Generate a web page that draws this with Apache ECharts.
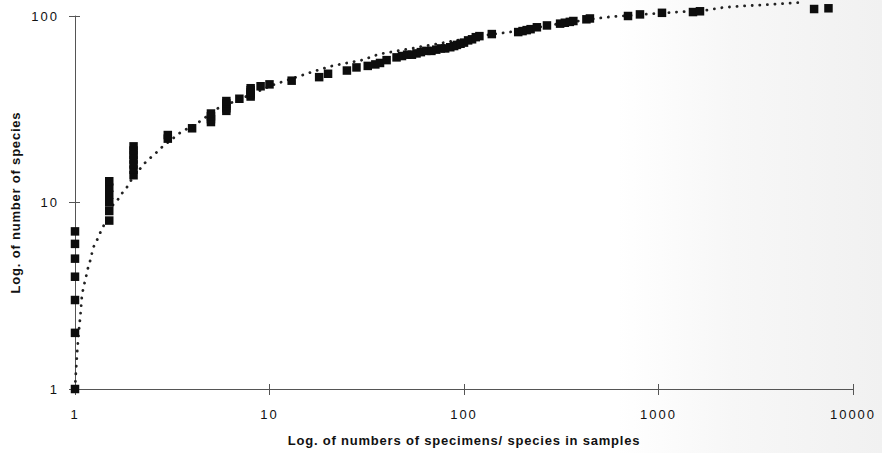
<!DOCTYPE html>
<html>
<head>
<meta charset="utf-8">
<script src="https://cdn.jsdelivr.net/npm/echarts@6/dist/echarts.min.js"></script>
<style>
html,body{margin:0;padding:0;}
body{background:linear-gradient(to right,#ffffff 0%,#ffffff 70%,#f7f7f7 83%,#f1f1f1 100%);}
#chart{width:882px;height:453px;}
#chart text{letter-spacing:2px;}
#chart text[style*="bold"]{letter-spacing:0.8px;}
</style>
</head>
<body>
<div id="chart"></div>
<script>
// Observed points: [specimens per species, number of species]
const specimensX = [1,1,1,1,1,1,1,
  1.5,1.5,1.5,1.5,1.5,1.5,
  2,2,2,2,2,2,2,
  3,3,4,5,5,5,5,6,6,6,6,6,7,8,8,8,8,8,9,10,
  13,18,20,25,28,32,35,37,40,
  45,48,51,54,57,60,64,68,72,76,80,85,89,
  92,96,100,105,110,115,120,139,
  190,200,210,220,237,267,312,330,350,365,426,444,
  697,803,1042,1504,1634,6310,7480];
const speciesY = [1,2,3,4,5,6,7,
  8,9,10,11,12,13,
  14,15,16,17,18,19,20,
  22,23,25,27,28,29,30,31,32,33,34,35,36,37,38,39,40,41,42,43,
  45,47,49,51,53,54,55,56,58,
  60,61,62,62,63,64,65,65,66,67,67,68,69,
  70,71,72,74,75,77,78,80,
  82,83,84,85,87,89,91,92,93,94,96,97,
  100,102,104,105,106,109,110];

// Dotted trend line
const trendX = [1,1.012,1.028,1.048,1.07,1.086,1.11,1.139,1.166,1.208,1.237,1.298,1.36,1.426,1.567,1.664,1.765,1.85,1.964,2.11,2.26,2.4,2.58,2.73,3.46,4.34,5.43,7.48,10.4,14,17.1,21,25,29.9,36.6,131,172,301,500,563,1188,1774,2146,2624,3656,4114,4690,5275];
const trendY = [1,1.26,1.62,2.07,2.59,3.19,3.57,3.98,4.45,5.04,5.7,6.29,7.03,7.76,9.7,10.4,11.4,12.1,13.4,14.7,16.1,17.1,18.2,19.4,23.6,27,32,36.8,42.7,47.3,50.7,54,56,58,62.5,79,82,90.6,97.5,99,104.7,107.6,111,113,115,116,117,118];

const xTicks = ['1','10','100','1000','10000'];
const yTicks = ['1','10','100'];

const font = 'Liberation Sans, Arial, Helvetica, sans-serif';
const pts = specimensX.map((x,i)=>[x,speciesY[i]]);
const trend = trendX.map((x,i)=>[x,trendY[i]]);

const chart = echarts.init(document.getElementById('chart'), null, {renderer:'svg'});
const axisCommon = {
  type:'log', logBase:10,
  splitLine:{show:false},
};
chart.setOption({
  backgroundColor:'transparent',
  animation:false,
  grid:{left:75,right:29,top:16,bottom:64},
  xAxis:[
    Object.assign({}, axisCommon, {
      min:1,max:10000,position:'bottom',
      axisLine:{show:true,lineStyle:{color:'#555',width:1}},
      axisTick:{show:true,inside:false,length:6,lineStyle:{color:'#555'}},
      axisLabel:{color:'#111',fontSize:13,fontFamily:font,margin:19,
        formatter:v=>{const i=Math.round(Math.log10(v));return xTicks[i]!==undefined?xTicks[i]:'';}},
      name:'Log. of numbers of specimens/ species in samples',
      nameLocation:'middle',nameGap:45,
      nameTextStyle:{color:'#111',fontSize:13,fontWeight:'bold',fontFamily:font}
    }),
    Object.assign({}, axisCommon, {
      min:1,max:10000,position:'bottom',
      axisLine:{show:false},
      axisTick:{show:true,inside:true,length:5,lineStyle:{color:'#555'}},
      axisLabel:{show:false}
    })
  ],
  yAxis:[
    Object.assign({}, axisCommon, {
      min:1,max:100,position:'left',
      axisLine:{show:true,lineStyle:{color:'#555',width:1}},
      axisTick:{show:true,inside:false,length:6,lineStyle:{color:'#555'}},
      axisLabel:{color:'#111',fontSize:13,fontFamily:font,margin:16,
        formatter:v=>{const i=Math.round(Math.log10(v));return yTicks[i]!==undefined?yTicks[i]:'';}},
      name:'Log. of number of species',
      nameLocation:'middle',nameGap:53,
      nameTextStyle:{color:'#111',fontSize:13,fontWeight:'bold',fontFamily:font}
    }),
    Object.assign({}, axisCommon, {
      min:1,max:100,position:'left',
      axisLine:{show:false},
      axisTick:{show:true,inside:true,length:5,lineStyle:{color:'#555'}},
      axisLabel:{show:false}
    })
  ],
  series:[
    {
      type:'line', data:trend, xAxisIndex:0, yAxisIndex:0,
      showSymbol:false, symbol:'none', clip:false, z:1,
      lineStyle:{color:'#222',width:2.8,type:[0.1,7.5],cap:'round'}
    },
    {
      type:'scatter', data:pts, xAxisIndex:0, yAxisIndex:0,
      symbol:'rect', symbolSize:8.5, clip:false, z:2,
      itemStyle:{color:'#0d0d0d',opacity:1}
    }
  ]
});
</script>
</body>
</html>
